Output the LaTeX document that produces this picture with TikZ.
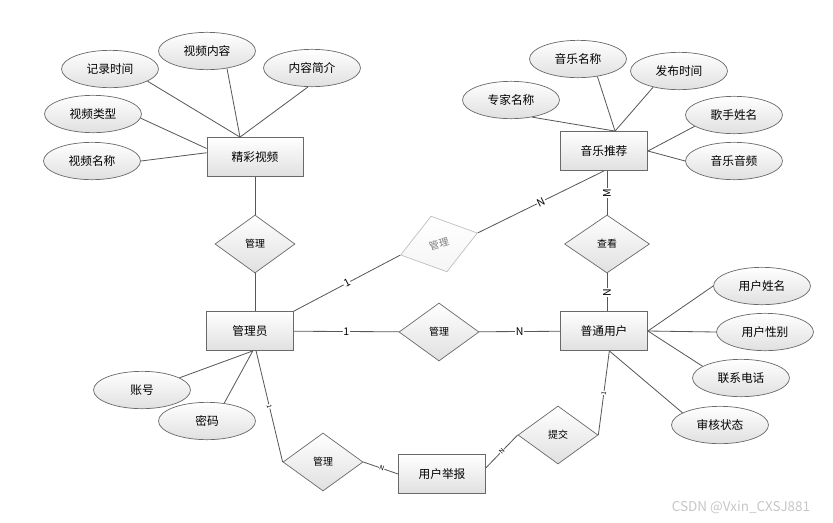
\documentclass[tikz,border=0pt]{standalone}
\usepackage{fontspec}
\usepackage{tikz}
\usetikzlibrary{shapes.geometric, positioning, calc}
\setmainfont{Noto Sans CJK SC}
\definecolor{cLine}{RGB}{88,88,88}
\definecolor{cEdge}{RGB}{105,105,105}
\definecolor{cShade}{RGB}{224,224,224}

\begin{document}
\begin{tikzpicture}[x=0.03cm, y=-0.03cm,
    ent/.style={draw=cEdge, line width=0.7pt, top color=white, bottom color=cShade,
        minimum width=2.61cm, minimum height=1.17cm, inner sep=0pt,
        font=\fontsize{10}{12}\selectfont},
    attr/.style={ellipse, draw=cEdge, line width=0.6pt, top color=white, bottom color=cShade,
        minimum width=2.91cm, minimum height=1.12cm, inner sep=0pt,
        font=\fontsize{10}{12}\selectfont},
    rel/.style={diamond, draw=cEdge, line width=0.6pt, top color=white, bottom color=cShade,
        minimum width=2.4cm, minimum height=1.74cm, inner sep=0pt,
        font=\fontsize{8.5}{10}\selectfont},
    card/.style={fill=white, inner sep=0.6pt, font=\fontsize{9}{10}\selectfont, sloped},
    tick/.style={fill=white, inner sep=0.3pt, font=\fontsize{5.5}{6}\selectfont, sloped},
    link/.style={draw=cLine, line width=0.7pt}]

    \useasboundingbox (0,0) rectangle (833,522);

    % --- 精彩视频 ---
    \node[ent, minimum width=2.88cm] (video) at (255,157) {精彩视频};
    \node[attr] (vTime)  at (110,69)  {记录时间};
    \node[attr] (vCont)  at (207,51)  {视频内容};
    \node[attr] (vIntro) at (312,68)  {内容简介};
    \node[attr] (vType)  at (93,114)  {视频类型};
    \node[attr] (vName)  at (92,161)  {视频名称};
    \draw[link] (vTime.-18)   -- (video.127);
    \draw[link] (vCont.-41)   -- (video.127);
    \draw[link] (vIntro.-102) -- (video.127);
    \draw[link] (vType.-5)    -- (video.170);
    \draw[link] (vName.east)  -- (video.175);

    % --- 音乐推荐 ---
    \node[ent] (music) at (604,151) {音乐推荐};
    \node[attr] (mName)   at (578,59)  {音乐名称};
    \node[attr] (mTime)   at (679,71)  {发布时间};
    \node[attr] (mAlbum)  at (511,100) {专家名称};
    \node[attr] (mSinger) at (734,115) {歌手姓名};
    \node[attr] (mAudio)  at (734,161) {音乐音频};
    \draw[link] (mName.-42)    -- (music.61);
    \draw[link] (mTime.-148)   -- (music.61);
    \draw[link] (mAlbum.-39)   -- (music.61);
    \draw[link] (mSinger.-164) -- (music.east);
    \draw[link] (mAudio.west)  -- (music.east);

    % --- 管理员 ---
    \node[ent] (admin) at (250,331) {管理员};
    \node[attr] (aAcc) at (142,390) {账号};
    \node[attr] (aPwd) at (207,421) {密码};
    \draw[link] (aAcc.18) -- (admin.-82);
    \draw[link] (aPwd.46) -- (admin.-82);

    % --- 普通用户 ---
    \node[ent] (user) at (604,331) {普通用户};
    \node[attr] (uName)  at (762,286) {用户姓名};
    \node[attr] (uSex)   at (765,332) {用户性别};
    \node[attr] (uTel)   at (741,378) {联系电话};
    \node[attr] (uState) at (720,425) {审核状态};
    \draw[link] (user.east) -- (uName.west);
    \draw[link] (user.east) -- (uSex.west);
    \draw[link] (user.east) -- (uTel.163);
    \draw[link] (user.-75)  -- (uState.162);

    % --- 用户举报 ---
    \node[ent] (report) at (442,474) {用户举报};

    % --- Relations ---
    \node[rel] (mgrVideo) at (255,244) {管理};
    \node[rel, rotate=16, draw=gray!50, bottom color=gray!8, text=gray] (mgrMusic) at (439,244) {管理};
    \node[rel] (mgrUser) at (439,332) {管理};
    \node[rel, minimum width=2.55cm] (look) at (607,244) {查看};
    \node[rel] (submit) at (558,435) {提交};
    \node[rel] (mgrReport) at (323,462) {管理};

    % Wires between entities and relations
    \draw[link] (video) -- (mgrVideo);
    \draw[link] (mgrVideo.south) -- (mgrVideo.south |- admin.north);
    \draw[link] (admin.north east) -- node[card] {1} (mgrMusic.west);
    \draw[link] (mgrMusic.east) -- node[card] {N} (music.south);
    \draw[link] (look.north) -- node[card] {M} (look.north |- music.south);
    \draw[link] (look.south |- user.north) -- node[card] {N} (look.south);
    \draw[link] (admin) -- node[card] {1} (mgrUser);
    \draw[link] (mgrUser) -- node[card] {N} (user);
    \draw[link] (admin.-73) -- node[tick] {1} (mgrReport.west);
    \draw[link] (mgrReport.east) -- node[tick, pos=0.53] {N} (report.west);
    \draw[link] (user.-75) -- node[tick] {1} (submit.east);
    \draw[link] (submit.west) -- node[tick] {N} (report.8);

    % Watermark
    \node[text=gray!45, font=\fontsize{11.5}{13}\selectfont] (mark) at (741,507) {CSDN @Vxin\_CXSJ881};

\end{tikzpicture}
\end{document}
